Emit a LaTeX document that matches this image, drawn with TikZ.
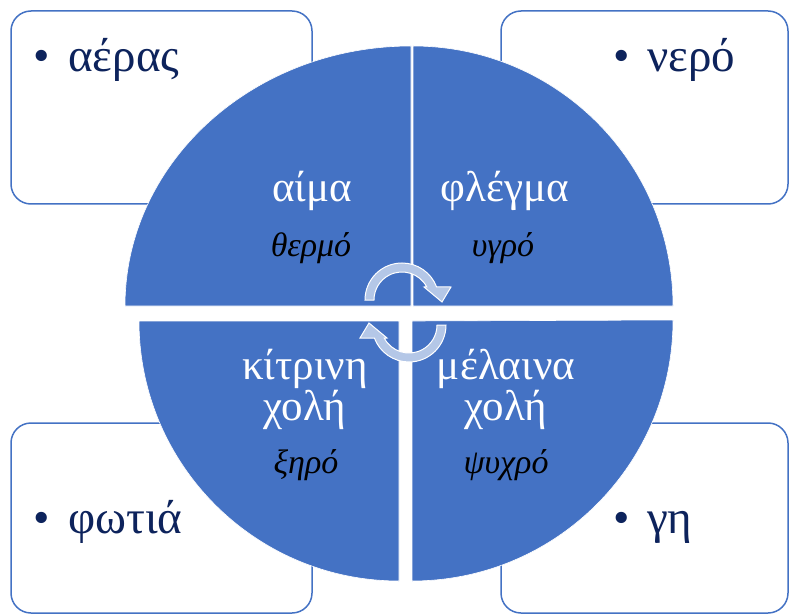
\documentclass[tikz,border=0pt]{standalone}
\usepackage{fontspec}
\setmainfont{Liberation Serif}
\usetikzlibrary{calc}
\definecolor{qblue}{HTML}{4472C4}
\definecolor{arrowblue}{HTML}{B4C7E7}
\definecolor{navy}{RGB}{13,35,92}
\tikzset{
  box/.style={draw=qblue, line width=1.5pt, fill=white, rounded corners=20pt},
  quad/.style={fill=qblue, draw=white, line width=0.6pt},
  cyc/.style={fill=arrowblue, draw=white, line width=1pt},
  elem/.style={inner sep=0pt, anchor=base west, text=navy, font=\fontsize{47}{50}\selectfont},
  bul/.style={inner sep=0pt, anchor=base, text=navy, font=\fontsize{47}{50}\selectfont},
  humour/.style={inner sep=0pt, anchor=base, text=white, align=center, font=\fontsize{43}{38}\selectfont},
  quality/.style={inner sep=0pt, anchor=base, text=black, font=\fontsize{34}{36}\selectfont\itshape},
}
\begin{document}
\begin{tikzpicture}[x=1pt,y=1pt]
\useasboundingbox (0,0) rectangle (789,614);
% corner boxes
\draw[box] (11,410) rectangle (312,603);
\draw[box] (501,410) rectangle (788,603);
\draw[box] (11,1) rectangle (312,191);
\draw[box] (501,1) rectangle (788,191);
% element texts
\node[bul] (b1) at (42,542) {•};
\node[elem] (t1) at (68,542) {αέρας};
\node[bul] (b2) at (622,542) {•};
\node[elem] (t2) at (647,542) {νερό};
\node[bul] (b3) at (42,81) {•};
\node[elem] (t3) at (68,81) {φωτιά};
\node[bul] (b4) at (622,81) {•};
\node[elem] (t4) at (647,81) {γη};
% quadrants
\path[quad] (411,308) -- (125,308) arc[start angle=180, end angle=90, x radius=286, y radius=260] -- cycle;
\path[quad] (413,308) -- (413,568) arc[start angle=90, end angle=0, radius=260] -- cycle;
\path[quad] (399,293) -- (139,293) arc[start angle=180, end angle=270, radius=260] -- cycle;
\path[quad] (412,293) -- (412,33) arc[start angle=270, end angle=360, radius=261] -- cycle;
% circular arrows
\coordinate (c1) at (402,314);
\coordinate (c2) at (409,289);
\path[cyc] ($(c1)+(180:37)$) arc[start angle=180, end angle=20.6, radius=37]
  -- ($(c1)+(49,13)$) -- ($(c1)+(40,-2)$) -- ($(c1)+(22,13)$)
  -- ($(c1)+(27.7:28)$) arc[start angle=27.7, end angle=180, radius=28] -- cycle;
\path[cyc] ($(c2)+(0:37)$) arc[start angle=0, end angle=-159.4, radius=37]
  -- ($(c2)+(-49,-13)$) -- ($(c2)+(-40,2)$) -- ($(c2)+(-22,-13)$)
  -- ($(c2)+(-152.3:28)$) arc[start angle=-152.3, end angle=0, radius=28] -- cycle;
% humour texts
\node[humour] (h1) at (312,412) {αίμα};
\node[quality] (q1) at (311,357) {θερμό};
\node[humour] (h2) at (505,412) {φλέγμα};
\node[quality] (q2) at (503,357) {υγρό};
\node[humour] (h3) at (305,194) {κίτρινη\\χολή};
\node[quality] (q3) at (306,141) {ξηρό};
\node[humour] (h4) at (506,194) {μέλαινα\\χολή};
\node[quality] (q4) at (506,141) {ψυχρό};
\end{tikzpicture}
\end{document}
